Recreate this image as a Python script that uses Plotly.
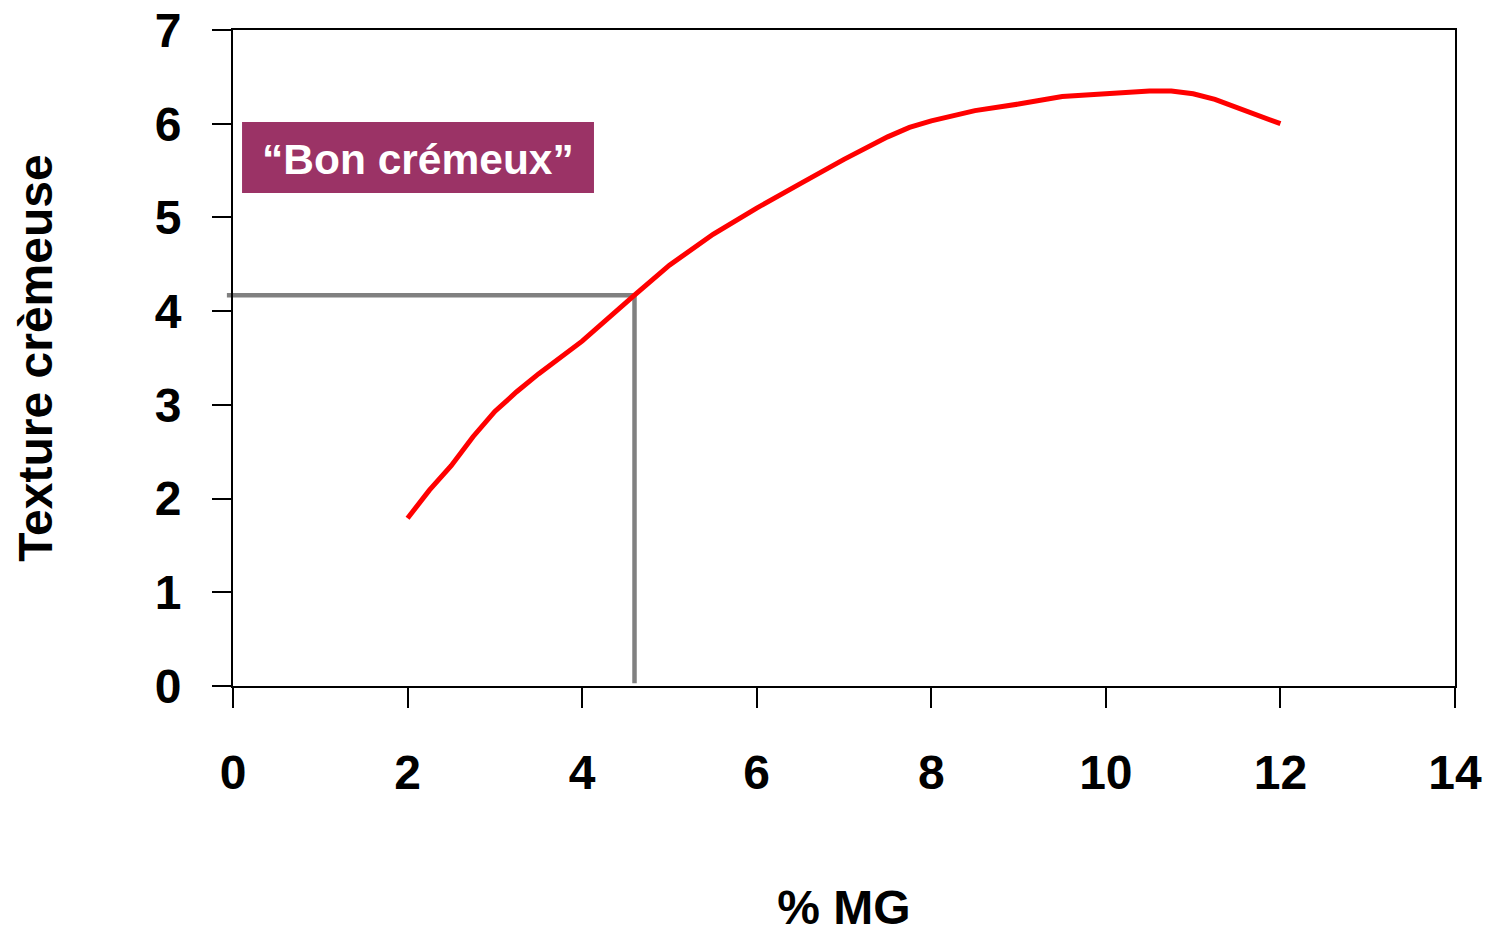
import plotly.graph_objects as go

# Data
mg = [2.0, 2.25, 2.5, 2.75, 3.0, 3.25, 3.5, 4.0, 4.6, 5.0, 5.5, 6.0, 6.5, 7.0, 7.5, 7.75, 8.0, 8.5, 9.0, 9.5, 10.0, 10.5, 10.75, 11.0, 11.25, 12.0]
texture = [1.79, 2.09, 2.35, 2.66, 2.93, 3.14, 3.33, 3.68, 4.17, 4.49, 4.82, 5.10, 5.36, 5.62, 5.86, 5.96, 6.03, 6.14, 6.21, 6.29, 6.32, 6.35, 6.35, 6.32, 6.26, 6.0]
ref_x = 4.6
ref_y = 4.17
x_range = [0, 14]
y_range = [0, 7]
x_ticks = [0, 2, 4, 6, 8, 10, 12, 14]
y_ticks = [0, 1, 2, 3, 4, 5, 6, 7]
label = "\u201cBon crémeux\u201d"

FONT = "Arial, 'Liberation Sans', sans-serif"

fig = go.Figure()
fig.add_trace(go.Scatter(x=mg, y=texture, mode="lines",
                         line=dict(color="#ff0000", width=5), showlegend=False,
                         hoverinfo="skip"))

# reference lines (paper x for horizontal so it pokes slightly left of axis)
fig.add_shape(type="line", xref="paper", yref="y",
              x0=-0.005, x1=(ref_x - x_range[0]) / (x_range[1] - x_range[0]),
              y0=ref_y, y1=ref_y, line=dict(color="#808080", width=4.5), layer="below")
fig.add_shape(type="line", xref="x", yref="y",
              x0=ref_x, x1=ref_x, y0=0.03, y1=ref_y,
              line=dict(color="#808080", width=4.5), layer="below")

# label box
fig.add_shape(type="rect", xref="paper", yref="paper",
              x0=0.0074, x1=0.2954, y0=0.7515, y1=0.8598,
              fillcolor="#9b3366", line=dict(width=0), layer="above")
fig.add_annotation(xref="paper", yref="paper", x=0.1514, y=0.803,
                   xanchor="center", yanchor="middle",
                   text=label, showarrow=False,
                   font=dict(family=FONT, size=42.5, color="white", weight="bold"))

fig.update_layout(
    width=1487, height=934,
    margin=dict(l=233, r=32, t=30, b=248),
    paper_bgcolor="white", plot_bgcolor="white",
    font=dict(family=FONT, color="black"),
)
fig.update_xaxes(range=x_range, tickvals=x_ticks, showgrid=False, zeroline=False,
                 showline=True, linecolor="black", linewidth=2, mirror=True,
                 ticks="outside", ticklen=20, tickwidth=2, tickcolor="black",
                 ticklabelstandoff=23, automargin=False, ticklabeloverflow="allow",
                 tickfont=dict(family=FONT, size=48, weight="bold"),
                 title=dict(text="% MG", standoff=98,
                            font=dict(family=FONT, size=48, weight="bold")))
fig.update_yaxes(range=y_range, tickvals=y_ticks, showgrid=False, zeroline=False,
                 showline=True, linecolor="black", linewidth=2, mirror=True,
                 ticks="outside", ticklen=19, tickwidth=2, tickcolor="black",
                 ticklabelstandoff=21, automargin=False, ticklabeloverflow="allow",
                 tickfont=dict(family=FONT, size=48, weight="bold"),
                 title=dict(text="Texture crèmeuse", standoff=87,
                            font=dict(family=FONT, size=48, weight="bold")))

fig.write_html("out.html", config={"displayModeBar": False},
               post_script="document.body.style.margin='0';document.body.style.overflow='hidden';")
